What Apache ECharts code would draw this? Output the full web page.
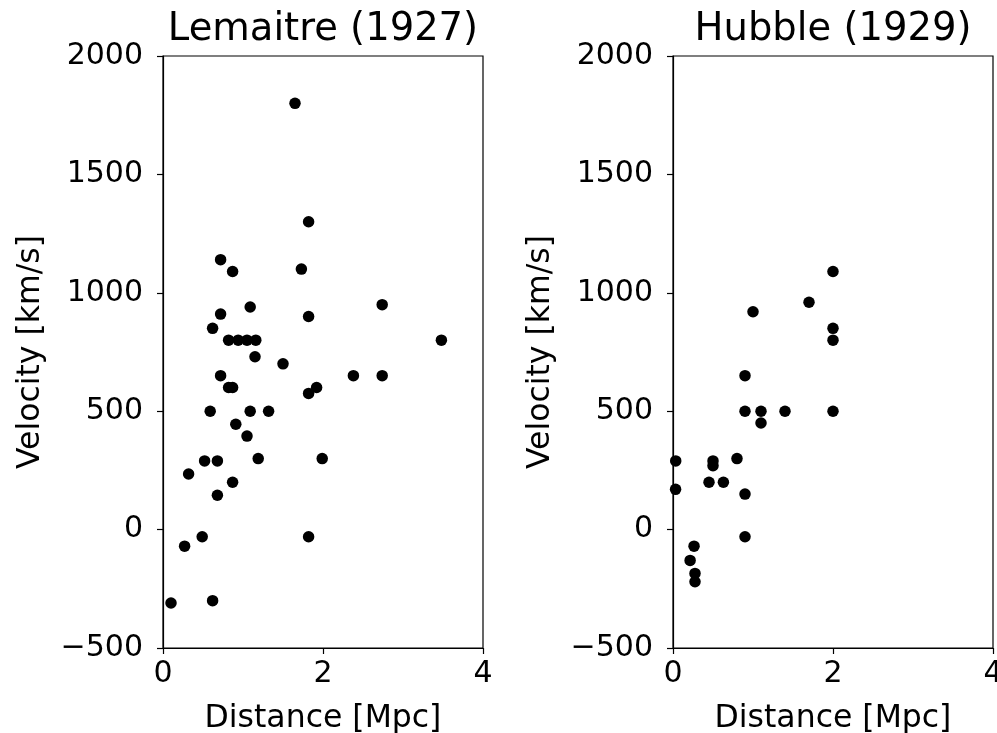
<!DOCTYPE html>
<html>
<head>
<meta charset="utf-8">
<script src="https://cdn.jsdelivr.net/npm/echarts@6/dist/echarts.min.js"></script>
<style>
html, body { margin: 0; padding: 0; background: #fff; }
#chart { width: 997px; height: 733px; }
</style>
</head>
<body>
<div id="chart"></div>
<script>
// ---- Data ----
const titles = ['Lemaitre (1927)', 'Hubble (1929)'];
const xAxisTitle = 'Distance [Mpc]';
const yAxisTitle = 'Velocity [km/s]';

const lemaitreDistance = [1.65, 1.82, 0.72, 0.87, 1.73, 0.72, 1.09, 1.82, 2.74, 0.62,
  0.82, 0.94, 1.05, 1.16, 3.48, 1.15, 1.50, 0.72, 2.38, 2.74,
  0.82, 0.87, 1.92, 1.82, 0.59, 1.09, 1.32, 0.91, 1.05, 0.52,
  0.68, 1.19, 1.99, 0.32, 0.87, 0.68, 0.49, 0.27, 1.82, 0.10, 0.62];
const lemaitreVelocity = [1800, 1300, 1140, 1090, 1100, 910, 940, 900, 950, 850,
  800, 800, 800, 800, 800, 730, 700, 650, 650, 650,
  600, 600, 600, 575, 500, 500, 500, 445, 395, 290,
  290, 300, 300, 235, 200, 145, -30, -70, -30, -310, -300];

const hubbleDistance = [0.032, 0.034, 0.214, 0.263, 0.275, 0.275, 0.45, 0.5, 0.5, 0.63,
  0.8, 0.9, 0.9, 0.9, 0.9, 1.0, 1.1, 1.1, 1.4, 1.7, 2.0, 2.0, 2.0, 2.0];
const hubbleVelocity = [170, 290, -130, -70, -185, -220, 200, 290, 270, 200,
  300, -30, 650, 150, 500, 920, 450, 500, 500, 960, 500, 850, 800, 1090];

const xTicks = { min: 0, max: 4, interval: 2 };
const yTicks = { min: -500, max: 2000, interval: 500 };

// ---- Chart ----
const FONT = 'DejaVu Sans';
const chart = echarts.init(document.getElementById('chart'), null, { renderer: 'canvas' });

function zip(xs, ys) { return xs.map((x, i) => [x, ys[i]]); }

const gridLefts = [163, 673];
const gridW = 320;

function xAxisFor(i) {
  return {
    gridIndex: i, type: 'value',
    min: xTicks.min, max: xTicks.max, interval: xTicks.interval,
    name: xAxisTitle, nameLocation: 'middle', nameGap: 55,
    nameTextStyle: { fontFamily: FONT, fontSize: 31.5, color: '#000' },
    axisLine: { show: true, onZero: false, lineStyle: { color: '#000', width: 1.2 } },
    axisTick: { show: true, length: 6, lineStyle: { color: '#000', width: 1.2 } },
    axisLabel: { fontFamily: FONT, fontSize: 30, color: '#000', margin: 11,
      formatter: v => String(v).replace('-', '\u2212') },
    splitLine: { show: false }
  };
}
function yAxisFor(i) {
  return {
    gridIndex: i, type: 'value',
    min: yTicks.min, max: yTicks.max, interval: yTicks.interval,
    name: yAxisTitle, nameLocation: 'middle', nameGap: 116,
    nameTextStyle: { fontFamily: FONT, fontSize: 31.5, color: '#000' },
    axisLine: { show: true, onZero: false, lineStyle: { color: '#000', width: 1.2 } },
    axisTick: { show: true, length: 6, lineStyle: { color: '#000', width: 1.2 } },
    axisLabel: { fontFamily: FONT, fontSize: 30, color: '#000', margin: 20,
      formatter: v => String(v).replace('-', '\u2212') },
    splitLine: { show: false }
  };
}

const option = {
  backgroundColor: '#fff',
  animation: false,
  title: titles.map((t, i) => ({
    text: t,
    left: gridLefts[i] + gridW / 2 - 5,
    textAlign: 'center',
    top: 5,
    textStyle: { fontFamily: FONT, fontSize: 38.5, fontWeight: 'normal', color: '#000' }
  })),
  grid: gridLefts.map(l => ({
    left: l, top: 56, width: gridW, height: 592,
    show: true, borderColor: '#000', borderWidth: 1.2, backgroundColor: 'transparent',
    containLabel: false, outerBoundsMode: 'none'
  })),
  xAxis: [xAxisFor(0), xAxisFor(1)],
  yAxis: [yAxisFor(0), yAxisFor(1)],
  series: [
    { type: 'scatter', xAxisIndex: 0, yAxisIndex: 0, symbolSize: 11.5,
      itemStyle: { color: '#000', opacity: 1 }, data: zip(lemaitreDistance, lemaitreVelocity) },
    { type: 'scatter', xAxisIndex: 1, yAxisIndex: 1, symbolSize: 11.5,
      itemStyle: { color: '#000', opacity: 1 }, data: zip(hubbleDistance, hubbleVelocity) }
  ]
};
chart.setOption(option);
</script>
</body>
</html>
